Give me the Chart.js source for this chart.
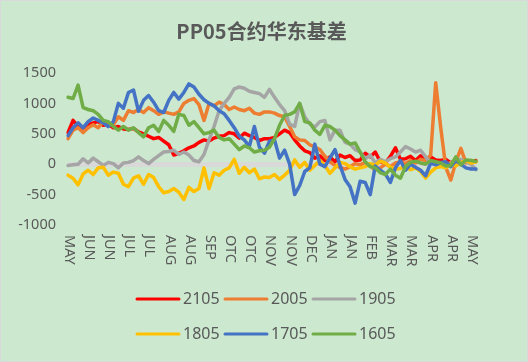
<!DOCTYPE html>
<html>
<head>
<meta charset="utf-8">
<script src="https://cdn.jsdelivr.net/npm/chart.js@4.4.1/dist/chart.umd.min.js"></script>
<style>
  html, body { margin: 0; padding: 0; background: #fff; }
  canvas { display: block; }
</style>
</head>
<body>
<canvas id="basisChart" width="528" height="362"></canvas>
<script>
// month labels shown under the plot, one every TICK_EVERY points
const monthTicks = ["MAY", "JUN", "JUN", "JUL", "JUL", "AUG", "AUG", "SEP", "OTC", "OTC", "NOV",
  "NOV", "DEC", "JAN", "JAN", "FEB", "MAR", "MAR", "APR", "APR", "MAY"];
const TICK_EVERY = 4;
const yTicks = [-1000, -500, 0, 500, 1000, 1500];

const seriesNames = ["2105", "2005", "1905", "1805", "1705", "1605"];
const seriesColors = ["#ff0000", "#ed7d31", "#a5a5a5", "#ffc000", "#4472c4", "#70ad47"];

const basis2105 = [520, 720, 620, 600, 650, 680, 700, 640, 660, 600,
  620, 580, 570, 590, 530, 500, 460, 420, 440, 380,
  320, 150, 180, 220, 270, 300, 360, 400, 380, 430,
  460, 470, 520, 500, 430, 510, 470, 440, 390, 420,
  420, 440, 500, 560, 520, 400, 300, 220, 190, 100,
  140, 60, 120, 40, 150, 110, 140, 60, 70, 180,
  120, 200, 40, 20, 130, 270, 80, 90, 130, 60,
  140, 90, 120, 70, 60, 80, 20, 70, 40, 60,
  50, 60];
const basis2005 = [420, 560, 600, 520, 600, 650, 600, 700, 680, 650,
  780, 720, 880, 850, 900, 850, 930, 880, 820, 860,
  840, 820, 860, 1000, 1050, 1080, 980, 720, 1000, 960,
  1020, 980, 900, 940, 900, 880, 920, 840, 820, 860,
  860, 840, 800, 780, 620, 450, 400, 390, 320, 280,
  240, 130, 40, -20, -50, -80, -40, 10, -10, 30,
  -30, -100, -60, 0, -40, 20, 40, 10, 60, 20,
  80, 60, 150, 1340, 600, -50, -260, 40, 260, 20,
  60, 40];
const basis1905 = [-20, -10, 0, 90, 20, 100, 40, -20, 30, 10,
  -60, 20, 30, 60, 120, 60, 10, 80, 140, 200,
  210, 230, 160, 200, 150, 60, 40, 160, 400, 620,
  880, 1000, 1100, 1240, 1270, 1250, 1200, 1180, 1160, 1100,
  1230, 1100, 980, 880, 660, 620, 1000, 780, 660, 610,
  700, 720, 400, 560, 560, 360, 330, 240, 200, 90,
  150, 20, 80, 40, 90, 120, 200, 290, 250, 200,
  230, 120, 20, 20, -20, 0, 20, 60, 80, 40,
  0, -90];
const basis1805 = [-180, -230, -340, -160, -100, -170, -60, -50, -180, -130,
  -150, -330, -370, -230, -190, -330, -170, -220, -370, -470,
  -450, -400, -460, -580, -380, -450, -400, -60, -400, -140,
  -180, -100, -60, 80, -150, -50, -140, -80, -240, -210,
  -220, -170, -250, -180, -100, 70, -50, 30, -100, -20,
  60, -20, -150, -60, 30, 10, -40, -80, -60, -40,
  10, -20, 50, 20, -50, -80, -70, -40, -90, -60,
  -120, -230, -130, -60, -40, -60, 10, -30, 30, 60,
  20, 40];
const basis1705 = [470, 600, 680, 600, 700, 760, 720, 680, 620, 700,
  1000, 920, 1180, 1220, 870, 1050, 1130, 1020, 880, 850,
  1050, 1180, 1070, 1180, 1320, 1270, 1150, 1060, 1000, 960,
  880, 830, 720, 600, 460, 400, 290, 620, 280, 180,
  380, 400, 100, 230, 0, -500, -350, -120, -60, 330,
  0, -40, 100, 240, -20, -250, -370, -640, -280, -300,
  -500, -30, -100, -160, -300, -60, 60, -100, 0, -50,
  -100, -190, 20, -10, 30, 40, -40, 60, 0, -60,
  -80, -80];
const basis1605 = [1100, 1080, 1300, 930, 900, 880, 820, 720, 700, 620,
  560, 620, 560, 600, 520, 450, 600, 640, 540, 720,
  640, 540, 820, 800, 640, 700, 600, 500, 520, 560,
  440, 400, 420, 330, 240, 300, 270, 200, 220, 230,
  280, 420, 640, 800, 820, 860, 1000, 700, 680, 560,
  490, 640, 620, 560, 470, 400, 330, 350, 200, 40,
  -40, -60, -140, -170, -80, -180, -230, -40, 30, 50,
  20, 0, 60, 40, 20, -30, -20, 120, -10, 70,
  60, 50];

const seriesData = [basis2105, basis2005, basis1905, basis1805, basis1705, basis1605];

// one category per point, month name on every TICK_EVERY-th one
const labels = basis2105.map((v, i) => i % TICK_EVERY === 0 ? (monthTicks[i / TICK_EVERY] || "") : "");

const textColor = "#595959";
const fontFamily = '"Noto Sans", "Noto Sans CJK SC", sans-serif';

// panel background and thin frame
const backgroundPlugin = {
  id: "panelBg",
  beforeDraw(chart) {
    const ctx = chart.ctx;
    ctx.save();
    ctx.fillStyle = "#cce8cf";
    ctx.fillRect(0, 0, chart.width, chart.height);
    ctx.strokeStyle = "#d9d9d9";
    ctx.lineWidth = 1;
    ctx.strokeRect(0.5, 0.5, chart.width - 1, chart.height - 1);
    ctx.restore();
  }
};

// month labels read top to bottom (rotated clockwise), below the plot
const monthLabelPlugin = {
  id: "monthLabels",
  afterDraw(chart) {
    const ctx = chart.ctx;
    const xScale = chart.scales.x;
    ctx.save();
    ctx.font = "14.5px " + fontFamily;
    ctx.fillStyle = textColor;
    ctx.textAlign = "left";
    ctx.textBaseline = "middle";
    monthTicks.forEach((m, j) => {
      const x = xScale.getPixelForValue(j * TICK_EVERY) + 1;
      ctx.save();
      ctx.translate(x, chart.chartArea.bottom + 10);
      ctx.rotate(Math.PI / 2);
      ctx.fillText(m, 0, 0);
      ctx.restore();
    });
    ctx.restore();
  }
};

// legend in two rows of three, like the original
const rowLegendPlugin = {
  id: "rowLegend",
  afterDraw(chart) {
    const ctx = chart.ctx;
    ctx.save();
    ctx.font = "16px " + fontFamily;
    ctx.textBaseline = "middle";
    ctx.textAlign = "left";
    chart.data.datasets.forEach((ds, i) => {
      const x = 137 + (i % 3) * 88;
      const y = 299 + Math.floor(i / 3) * 35;
      ctx.strokeStyle = ds.borderColor;
      ctx.lineWidth = 3;
      ctx.lineCap = "round";
      ctx.beginPath();
      ctx.moveTo(x, y);
      ctx.lineTo(x + 42, y);
      ctx.stroke();
      ctx.fillStyle = textColor;
      ctx.fillText(ds.label, x + 46, y);
    });
    ctx.restore();
  }
};

const ctx = document.getElementById("basisChart").getContext("2d");
new Chart(ctx, {
  type: "line",
  data: {
    labels: labels,
    datasets: seriesNames.map((name, i) => ({
      label: name,
      data: seriesData[i],
      borderColor: seriesColors[i],
      backgroundColor: seriesColors[i],
      borderWidth: 3.5,
      borderJoinStyle: "round",
      borderCapStyle: "round",
      pointRadius: 0,
      tension: 0,
      order: seriesNames.length - 1 - i // later series drawn on top
    }))
  },
  options: {
    responsive: false,
    animation: false,
    devicePixelRatio: 1,
    layout: { padding: { left: 0, right: 5, top: 0, bottom: 137 } },
    scales: {
      x: {
        display: false
      },
      y: {
        min: -1000,
        max: 1500,
        afterBuildTicks: scale => { scale.ticks = yTicks.map(v => ({ value: v })); },
        afterFit: scale => { scale.width = 68; },
        ticks: {
          color: textColor,
          font: { family: fontFamily, size: 14.5 },
          padding: 12,
          callback: value => String(value)
        },
        grid: {
          drawTicks: false,
          color: c => c.tick && c.tick.value === 0 ? "#d9d9d9" : "rgba(0,0,0,0)",
          lineWidth: c => c.tick && c.tick.value === 0 ? 5 : 0
        },
        border: { display: false }
      },
      // empty right-hand axis, only reserves the gap on the right
      yRight: {
        position: "right",
        display: true,
        afterFit: scale => { scale.width = 47; },
        ticks: { display: false },
        grid: { display: false, drawTicks: false },
        border: { display: false }
      }
    },
    plugins: {
      legend: { display: false },
      tooltip: { enabled: false },
      title: {
        display: true,
        text: "PP05合约华东基差",
        color: textColor,
        font: { family: '"Noto Sans CJK SC", sans-serif', size: 20, weight: "bold" },
        padding: { top: 19, bottom: 30 }
      }
    }
  },
  plugins: [backgroundPlugin, monthLabelPlugin, rowLegendPlugin]
});
</script>
</body>
</html>
